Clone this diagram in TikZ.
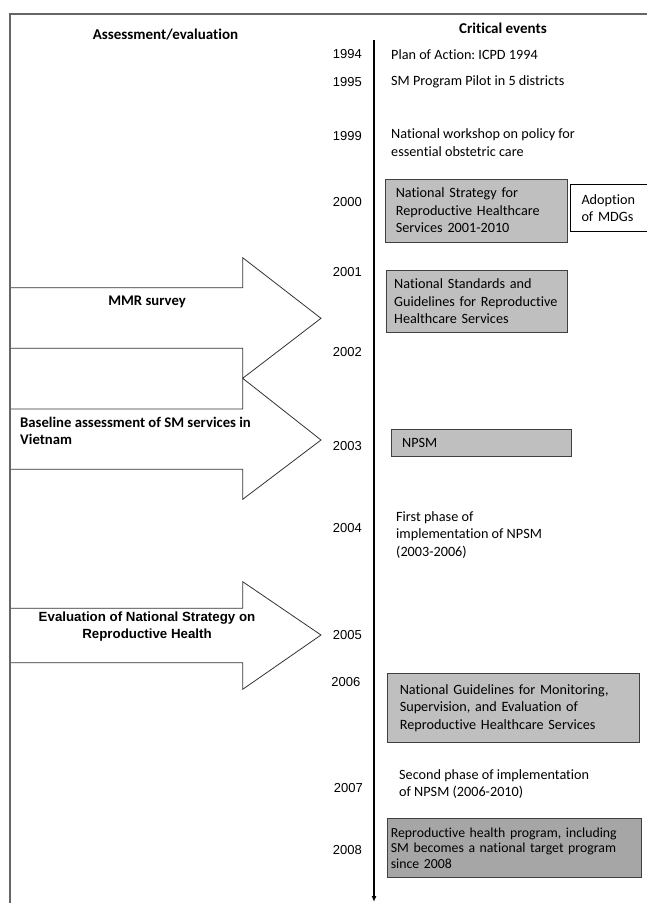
\documentclass[tikz,border=0pt]{standalone}
\usepackage{fontspec}
\setmainfont{Carlito}[Ligatures=NoCommon]
\newfontfamily\arialfont{Liberation Sans}
\usetikzlibrary{arrows.meta}
\frenchspacing
\hyphenpenalty=10000

\begin{document}
\begin{tikzpicture}[x=1pt,y=-1pt]
		% Styles
		\tikzstyle{cadre}=[draw=black!60,line width=1.2pt]
		\tikzstyle{axe}=[-{Latex[length=6pt,width=5pt]},line width=1.4pt]
		\tikzstyle{fleche}=[draw=black!80,fill=white,line width=0.8pt]
		\tikzstyle{titre}=[inner sep=0pt,font=\bfseries\fontsize{15}{18}\selectfont]
		\tikzstyle{etiq}=[inner sep=0pt,align=left,font=\bfseries\fontsize{14.7}{17.7}\selectfont]
		\tikzstyle{etiqarial}=[inner sep=0pt,align=center,font=\arialfont\bfseries\fontsize{13.3}{16.7}\selectfont]
		\tikzstyle{annee}=[anchor=east,inner sep=0pt,font=\arialfont\fontsize{13}{15}\selectfont]
		\tikzstyle{evt}=[anchor=west,inner sep=0pt,align=left,font=\fontsize{14.2}{17.5}\selectfont]
		\tikzstyle{boite}=[anchor=west,draw=black!75,fill=black!25,line width=1pt,align=left,inner ysep=0pt,font=\fontsize{14.2}{17.5}\selectfont]
		\tikzstyle{boitefonce}=[boite,fill=black!35,font=\fontsize{13.8}{15.5}\selectfont]
		\tikzstyle{boiteblanche}=[boite,draw=black,fill=white,font=\fontsize{14.2}{17}\selectfont]
		% Dimensions
		\def\XCadre{10}
		\def\YCadre{14}
		\def\XCorps{242.7}
		\def\XPointe{321}
		\def\XAxe{374}
		\def\XAnnee{362}
		\useasboundingbox (0,0) rectangle (647,903);
		
		% Fleches (evaluations)
		\draw[fleche] (\XCadre,287.7) -- (\XCorps,287.7) -- (\XCorps,257.7) -- (\XPointe,318.3) -- (\XCorps,378.3) -- (\XCorps,348.3) -- (\XCadre,348.3) -- cycle;
		\draw[fleche] (\XCadre,409) -- (\XCorps,409) -- (\XCorps,378.3) -- (\XPointe,440) -- (\XCorps,499.3) -- (\XCorps,469.3) -- (\XCadre,469.3) -- cycle;
		\draw[fleche] (\XCadre,608.3) -- (\XCorps,608.3) -- (\XCorps,581.7) -- (\XPointe,635) -- (\XCorps,689.3) -- (\XCorps,662.7) -- (\XCadre,662.7) -- cycle;
		
		% Cadre
		\coordinate (HautGauche) at (\XCadre,\YCadre);
		\coordinate (HautDroite) at (647,\YCadre);
		\coordinate (BasGauche) at (\XCadre,903);
		\draw[cadre] (HautDroite) -- (HautGauche) -- (BasGauche);
		
		% Titres
		\node[titre] (TitreEval) at (165.5,34.3) {Assessment/evaluation};
		\node[titre] (TitreEvts) at (503,28) {Critical events};
		
		% Textes des fleches
		\node[etiq] (MMR) at (147,301.7) {MMR survey};
		\node[etiq,anchor=west] (Baseline) at (20,431) {Baseline assessment of SM services in\\Vietnam};
		\node[etiqarial] (EvalStrat) at (147,626.7) {Evaluation of National Strategy on\\Reproductive Health};
		
		% Axe du temps
		\coordinate (Debut) at (\XAxe,40);
		\coordinate (Fin) at (\XAxe,902);
		\draw[axe] (Debut) -- (Fin);
		
		% Annees
		\node[annee] (A1994) at (\XAnnee,54) {1994};
		\node[annee] (A1995) at (\XAnnee,82) {1995};
		\node[annee] (A1999) at (\XAnnee,136) {1999};
		\node[annee] (A2000) at (\XAnnee,202) {2000};
		\node[annee] (A2001) at (\XAnnee,271.7) {2001};
		\node[annee] (A2002) at (\XAnnee,351.7) {2002};
		\node[annee] (A2003) at (\XAnnee,445.7) {2003};
		\node[annee] (A2004) at (\XAnnee,528) {2004};
		\node[annee] (A2005) at (\XAnnee,635) {2005};
		\node[annee] (A2006) at (360.5,682) {2006};
		\node[annee] (A2007) at (363,788.3) {2007};
		\node[annee] (A2008) at (\XAnnee,850) {2008};
		
		% Evenements
		\node[evt] (ICPD) at (391,55) {Plan of Action: ICPD 1994};
		\node[evt] (Pilote) at (391,82) {SM Program Pilot in 5 districts};
		\node[evt] (Atelier) at (391,142.5) {National workshop on policy for\\essential obstetric care};
		\node[boite,text width=161.4pt,inner xsep=10pt,minimum height=63pt] (Strategie) at (385.3,210.5) {National Strategy for\\Reproductive Healthcare\\Services 2001-2010};
		\node[boiteblanche,text width=68pt,inner xsep=11pt,minimum height=46.3pt] (MDG) at (570,207.9) {Adoption\\of MDGs};
		\node[boite,text width=165pt,inner xsep=8pt,minimum height=61.6pt] (Normes) at (385.7,301.5) {National Standards and\\Guidelines for Reproductive\\Healthcare Services};
		\node[boite,text width=158pt,inner xsep=11pt,minimum height=27.7pt] (NPSM) at (390.7,442.9) {NPSM};
		\node[evt] (Phase1) at (396,535) {First phase of\\implementation of NPSM\\(2003-2006)};
		\node[boite,text width=227.7pt,inner xsep=12pt,minimum height=69pt] (Suivi) at (387.3,707.8) {National Guidelines for Monitoring,\\Supervision, and Evaluation of\\Reproductive Healthcare Services};
		\node[evt] (Phase2) at (399,784) {Second phase of implementation\\of NPSM (2006-2010)};
		\node[boitefonce,text width=247.7pt,inner xsep=3pt,minimum height=59.4pt] (Cible) at (387.3,848) {Reproductive health program, including\\SM becomes a national target program\\since 2008};
		
	\end{tikzpicture}
\end{document}
